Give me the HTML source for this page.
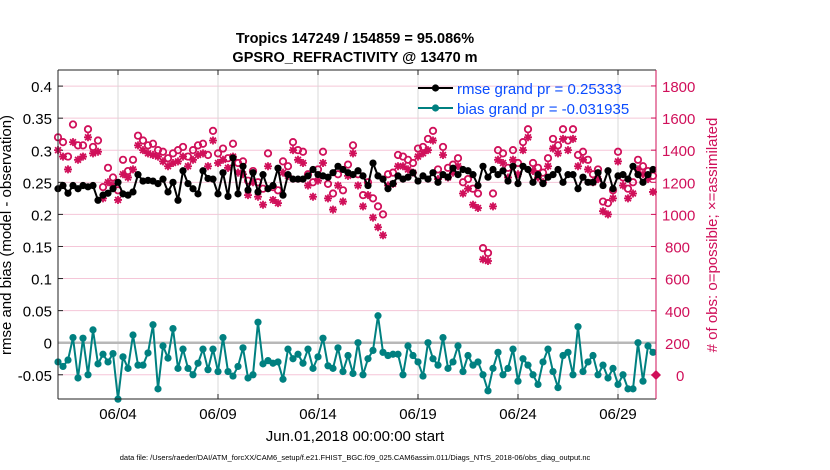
<!DOCTYPE html>
<html><head><meta charset="utf-8">
<style>
body{margin:0;background:#fff;}
svg{display:block;font-family:"Liberation Sans",sans-serif;}
</style></head>
<body>
<svg id="c" width="830" height="470" xmlns="http://www.w3.org/2000/svg">
<text x="355" y="43" text-anchor="middle" font-size="14.5" font-weight="bold">Tropics 147249 / 154859 = 95.086%</text>
<text x="355" y="62" text-anchor="middle" font-size="14.5" font-weight="bold">GPSRO_REFRACTIVITY @ 13470 m</text>
<text x="355" y="441" text-anchor="middle" font-size="15">Jun.01,2018 00:00:00 start</text>
<text x="355" y="460" text-anchor="middle" font-size="7.5">data file: /Users/raeder/DAI/ATM_forcXX/CAM6_setup/f.e21.FHIST_BGC.f09_025.CAM6assim.011/Diags_NTrS_2018-06/obs_diag_output.nc</text>
<text transform="translate(11,235) rotate(-90)" text-anchor="middle" font-size="15">rmse and bias (model - observation)</text>
<text transform="translate(717,235) rotate(-90)" text-anchor="middle" font-size="15" fill="#d0105a"># of obs: o=possible; ×=assimilated</text>
<g id="g"></g>
</svg>
<script>
const dayTicks=[3,8,13,18,23,28];
const dayLabels=["06/04","06/09","06/14","06/19","06/24","06/29"];
const leftTicks=[-0.05,0,0.05,0.1,0.15,0.2,0.25,0.3,0.35,0.4];
const leftLabels=["-0.05","0","0.05","0.1","0.15","0.2","0.25","0.3","0.35","0.4"];
const rightTicks=[0,200,400,600,800,1000,1200,1400,1600,1800];
const rmse=[.240,.245,.233,.245,.240,.245,.243,.245,.222,.230,.233,.240,.250,.232,.230,.235,.262,.252,.253,.252,.248,.255,.235,.250,.222,.268,.248,.240,.232,.268,.256,.255,.232,.265,.228,.288,.232,.275,.238,.265,.235,.262,.240,.245,.272,.230,.262,.255,.255,.255,.260,.270,.262,.260,.258,.265,.275,.270,.265,.262,.268,.260,.245,.280,.260,.255,.240,.248,.260,.255,.258,.265,.252,.260,.255,.265,.250,.262,.258,.272,.262,.270,.268,.262,.245,.275,.258,.270,.262,.268,.252,.275,.248,.275,.270,.250,.262,.248,.258,.262,.270,.250,.262,.262,.240,.258,.250,.250,.265,.245,.268,.240,.260,.262,.255,.275,.262,.250,.262,.270];
const bias=[-.030,-.037,-.027,.008,-.055,.007,-.050,.020,-.033,-.018,-.030,-.017,-.088,-.022,-.040,.012,-.035,-.035,-.016,.028,-.072,-.005,-.024,.022,-.040,-.010,-.040,-.050,-.032,-.010,-.042,-.010,-.045,.008,-.045,-.052,-.037,-.008,-.055,-.050,.032,-.033,-.028,-.032,-.030,-.057,-.010,-.025,-.018,-.032,-.010,-.040,-.022,.007,-.036,-.040,-.008,-.045,-.020,-.048,.000,-.050,-.025,-.012,.042,-.015,-.020,-.018,-.018,-.050,-.005,-.020,-.030,-.052,.000,-.025,-.035,.008,-.040,-.030,-.005,-.045,-.020,-.035,-.030,-.050,-.075,-.040,-.015,-.050,-.040,-.010,-.060,-.025,-.035,-.050,-.065,-.030,-.010,-.045,-.070,-.020,-.015,-.050,.025,-.045,-.030,-.020,-.050,-.035,-.055,-.040,-.065,-.050,-.072,-.072,.000,-.060,-.005,-.015];
const possible=[1480,1450,1360,1560,1430,1430,1530,1420,1460,1170,1290,1230,1150,1340,1270,1340,1490,1460,1430,1440,1400,1390,1350,1380,1400,1420,1360,1400,1430,1440,1370,1520,1380,1410,1350,1440,1320,1330,1210,1270,1200,1160,1380,1170,1150,1330,1300,1450,1400,1390,1250,1200,1280,1390,1190,1130,1250,1150,1310,1430,1250,1120,1200,1100,1050,1000,1250,1260,1370,1360,1340,1320,1410,1420,1470,1520,1280,1420,1290,1310,1350,1200,1220,1160,1130,790,760,1130,1400,1380,1290,1400,1320,1450,1530,1320,1290,1260,1350,1470,1430,1530,1460,1530,1370,1390,1340,1250,1280,1080,1070,1150,1390,1230,1160,1200,1340,1300,1270,1240];
const assim=[1400,1360,1280,1450,1340,1360,1480,1380,1390,1100,1200,1180,1090,1250,1230,1280,1430,1400,1380,1370,1360,1330,1300,1320,1330,1360,1300,1340,1370,1380,1300,1460,1320,1340,1290,1360,1260,1250,1120,1200,1110,1060,1300,1090,1070,1260,1240,1400,1340,1320,1180,1110,1210,1320,1100,1030,1180,1080,1240,1380,1180,1050,1120,980,920,870,1180,1190,1300,1300,1280,1260,1360,1380,1400,1460,1220,1370,1230,1260,1300,1130,1160,1060,1040,720,710,1050,1340,1320,1230,1340,1250,1400,1480,1270,1230,1200,1300,1410,1380,1470,1400,1470,1300,1340,1280,1200,1220,1020,1000,1100,1330,1180,1100,1130,1280,1250,1220,1140];

const X0=58,X1=656,Y0=70,Y1=399;
const xs=d=>X0+d*20;
const ys=v=>342.7-v*641.5;
const yr=c=>375-c*0.1606;
const g=document.getElementById('g');
const NS='http://www.w3.org/2000/svg';
function mk(t,a,p){const e=document.createElementNS(NS,t);for(const k in a)e.setAttribute(k,a[k]);(p||g).appendChild(e);return e;}

leftTicks.forEach((v,i)=>{
 const l=mk('line',{x1:X0,x2:X1,y1:ys(v),y2:ys(v),stroke:'#f5c6d8','stroke-width':1});
 
 
 const t=mk('text',{x:X0-6,y:ys(v)+6,'text-anchor':'end','font-size':15});
 t.textContent=leftLabels[i];
 
 
 mk('line',{x1:X0,x2:X0+5,y1:ys(v),y2:ys(v),stroke:'#222'});
});
dayTicks.forEach((d,i)=>{
 const l=mk('line',{x1:xs(d),x2:xs(d),y1:Y0,y2:Y1,stroke:'#d8d8d8','stroke-width':1});
 
 
 mk('line',{x1:xs(d),x2:xs(d),y1:Y1,y2:Y1-5,stroke:'#222'});
 mk('line',{x1:xs(d),x2:xs(d),y1:Y0,y2:Y0+5,stroke:'#222'});
 const t=mk('text',{x:xs(d),y:419,'text-anchor':'middle','font-size':15});
 t.textContent=dayLabels[i];
 
 
});
rightTicks.forEach(c=>{
 mk('line',{x1:X1,x2:X1-5,y1:yr(c),y2:yr(c),stroke:'#d0105a'});
 const t=mk('text',{x:c===0?676:(c<1000?665:662),y:yr(c)+6,'text-anchor':'start','font-size':15,fill:'#d0105a'});
 t.textContent=String(c);
 
 
});
const z=mk('line',{x1:X0,x2:X1,y1:ys(0),y2:ys(0),stroke:'#b8b8b8','stroke-width':2.5});



const xi=i=>xs(i*0.25);
const gc=mk('g',{});


possible.forEach((c,i)=>{
 const e=mk('circle',{cx:xi(i),cy:yr(c),r:3.2,fill:'none',stroke:'#d0105a','stroke-width':1.8},gc);
 
 
});
assim.forEach((c,i)=>{
 const x=xi(i),y=yr(c),r=4;
 const e=mk('path',{d:`M${x-r} ${y}H${x+r}M${x} ${y-r}V${y+r}M${x-2.9} ${y-2.9}L${x+2.9} ${y+2.9}M${x-2.9} ${y+2.9}L${x+2.9} ${y-2.9}`,stroke:'#d0105a','stroke-width':1.8,fill:'none'},gc);
 
 
});
function series(vals,col,name){
 const sg=mk('g',{});
 
 
 mk('polyline',{points:vals.map((v,i)=>xi(i)+','+ys(v)).join(' '),fill:'none',stroke:col,'stroke-width':2},sg);
 vals.forEach((v,i)=>{
  const c=mk('circle',{cx:xi(i),cy:ys(v),r:3.6,fill:col},sg);
  
  
 });
}
series(rmse,'#000','rmse-line');
series(bias,'#008080','bias-line');
const zm=mk('path',{d:`M${X1-5} ${yr(0)}L${X1} ${yr(0)-5}L${X1+5} ${yr(0)}L${X1} ${yr(0)+5}Z`,fill:'#d0105a'});


mk('line',{x1:X0,x2:X0,y1:Y0,y2:Y1,stroke:'#222'});
mk('line',{x1:X0,x2:X1,y1:Y0,y2:Y0,stroke:'#222'});
mk('line',{x1:X0,x2:X1,y1:Y1,y2:Y1,stroke:'#222'});
mk('line',{x1:X1,x2:X1,y1:Y0,y2:Y1,stroke:'#d0105a'});
const lg=mk('g',{});


[['#000','rmse grand pr = 0.25333',88],['#008080','bias grand pr = -0.031935',108]].forEach(([col,txt,y])=>{
 mk('line',{x1:418,x2:453,y1:y,y2:y,stroke:col,'stroke-width':2},lg);
 mk('circle',{cx:435.5,cy:y,r:3.6,fill:col},lg);
 const t=mk('text',{x:457,y:y+6,'font-size':15,fill:'#0a4cff'},lg);
 t.textContent=txt;
 
 
});
</script>
</body></html>
